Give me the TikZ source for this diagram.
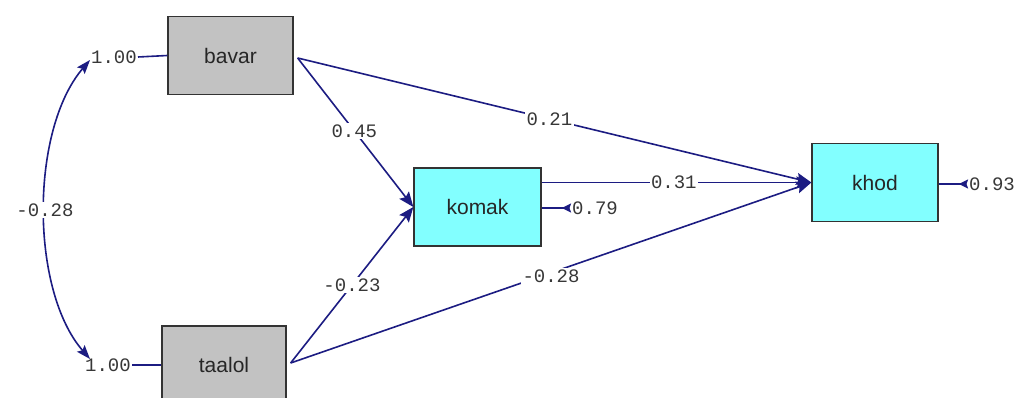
\documentclass[tikz,border=0pt]{standalone}
\usepackage{fontspec}
\setmainfont{Liberation Sans}
\newfontfamily\monofam{Liberation Mono}
\usetikzlibrary{arrows.meta}
\definecolor{pathblue}{RGB}{28,28,130}
\definecolor{boxgray}{RGB}{194,194,194}
\definecolor{boxcyan}{RGB}{130,255,255}
\definecolor{lblcol}{RGB}{55,55,55}
\begin{document}
\begin{tikzpicture}[x=1pt,y=-1pt,
  var/.style={draw=black!80, line width=1.3pt, minimum height=78pt, inner sep=0pt,
    font=\fontsize{21}{21}\selectfont, text=black!85},
  exo/.style={var, fill=boxgray},
  endo/.style={var, fill=boxcyan},
  lbl/.style={fill=white, inner sep=1.5pt, text=lblcol, font=\monofam\fontsize{19}{19}\selectfont},
  plainlbl/.style={inner sep=1pt, text=lblcol, font=\monofam\fontsize{19}{19}\selectfont},
  conn/.style={draw=pathblue, line width=1.6pt, -{Stealth[length=15pt,width=12pt,inset=2.5pt]}},
  covconn/.style={draw=pathblue, line width=1.6pt,
    {Stealth[length=14pt,width=10pt,inset=2.5pt]}-{Stealth[length=14pt,width=10pt,inset=2.5pt]}},
  fixline/.style={draw=pathblue, line width=1.6pt},
  errconn/.style={draw=pathblue, line width=2.6pt, -{Stealth[reversed,length=9pt,width=9pt,inset=1.5pt]}}
]
\clip (0,0) rectangle (1018,398);
\fill[white] (0,0) rectangle (1018,398);

% variables
\node[exo,  minimum width=125pt] (bavar) at (230.5,55.5) {bavar};
\node[exo,  minimum width=124pt] (taalol) at (224,365) {taalol};
\node[endo, minimum width=127pt] (komak) at (477.5,207) {komak};
\node[endo, minimum width=126pt] (khod) at (875,182.5) {khod};

% fixed variance labels
\node[plainlbl] (v1) at (114,57) {1.00};
\node[plainlbl] (v2) at (108,365) {1.00};
\draw[fixline] (v1.east) -- (bavar.west);
\draw[fixline] (v2.east) -- (taalol.west);

% covariance
\coordinate (c1) at (90,60);
\coordinate (c2) at (90,359);
\draw[covconn] (c1) .. controls (30,130) and (30,290) .. (c2)
  node[lbl, pos=0.5] {-0.28};

% structural paths
\draw[conn] ([xshift=4pt,yshift=-2.5pt]bavar.east) -- (komak.west) node[lbl, pos=0.49] {0.45};
\draw[conn] ([xshift=4pt,yshift=-2.5pt]bavar.east) -- (khod.west) node[lbl, pos=0.49] {0.21};
\draw[conn] ([xshift=4pt,yshift=2pt]taalol.east) -- (komak.west) node[lbl, pos=0.5] {-0.23};
\draw[conn] ([xshift=4pt,yshift=2pt]taalol.east) -- (khod.west) node[lbl, pos=0.5, yshift=-3pt] {-0.28};
\draw[conn] (komak.east |- khod.west) -- (khod.west) node[lbl, pos=0.49] {0.31};

% error variances
\node[plainlbl] (e1) at (595,208) {0.79};
\node[plainlbl] (e2) at (992,184) {0.93};
\draw[errconn] (komak.east |- e1.west) -- (e1.west);
\draw[errconn] (khod.east |- e2.west) -- (e2.west);
\end{tikzpicture}
\end{document}
